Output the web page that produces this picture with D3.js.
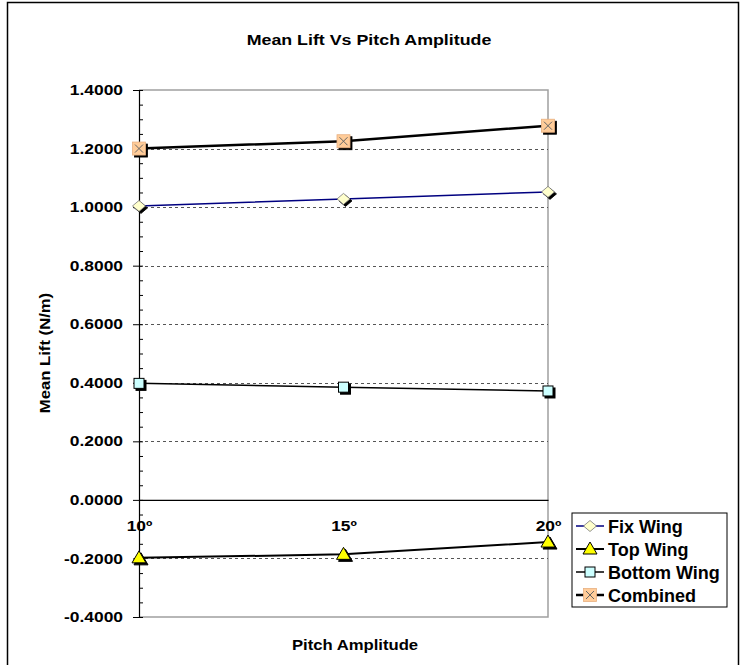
<!DOCTYPE html>
<html>
<head>
<meta charset="utf-8">
<script src="https://cdn.jsdelivr.net/npm/d3@7"></script>
<style>
  body { margin: 0; background: #fff; }
  text { font-family: "Liberation Sans", Arial, sans-serif; font-weight: bold; }
</style>
</head>
<body>
<svg id="chart" width="740" height="665"></svg>
<script>
// data
var amplitudes = ["10º", "15º", "20º"]
var fixWing = [1.004, 1.028, 1.052]
var topWing = [-0.198, -0.186, -0.144]
var bottomWing = [0.398, 0.385, 0.372]
var combined = [1.200, 1.225, 1.278]
var yTicks = [-0.4, -0.2, 0, 0.2, 0.4, 0.6, 0.8, 1.0, 1.2, 1.4]

var series = [
  { name: "Fix Wing", values: fixWing, color: "#000080", width: 1.5, marker: "diamond", fill: "#FFFFCC" },
  { name: "Top Wing", values: topWing, color: "#000", width: 2, marker: "triangle", fill: "#FFFF00" },
  { name: "Bottom Wing", values: bottomWing, color: "#000", width: 1.5, marker: "square", fill: "#CCFFFF" },
  { name: "Combined", values: combined, color: "#000", width: 2.5, marker: "cross", fill: "#FFCC99" }
]

const svg = d3.select('#chart')

// outer chart border
svg.append('rect')
  .attr('x', 7.5).attr('y', 2.5)
  .attr('width', 731).attr('height', 690)
  .attr('fill', 'none').attr('stroke', '#000').attr('stroke-width', 1.5)

var x = d3.scalePoint().domain(amplitudes).range([139, 548])
var y = d3.scaleLinear().domain([-0.4, 1.4]).range([617, 90])

// plot border (top, right, bottom)
const plot = svg.append('g')
plot.append('path')
  .attr('d', 'M' + x.range()[0] + ',' + y(1.4) + 'H' + x.range()[1] + 'V' + y(-0.4) + 'H' + x.range()[0])
  .attr('fill', 'none').attr('stroke', '#a0a0a0').attr('stroke-width', 1.5)

// dashed gridlines
plot.selectAll('.grid')
  .data(yTicks.filter((d) => d !== 0 && d !== -0.4 && d !== 1.4))
  .enter()
  .append('line')
  .attr('x1', x.range()[0]).attr('x2', x.range()[1])
  .attr('y1', (d) => Math.round(y(d)) + 0.5).attr('y2', (d) => Math.round(y(d)) + 0.5)
  .attr('stroke', '#555').attr('stroke-dasharray', '3,3')

// y axis: major ticks outward, minor ticks inward
var fmt = (d) => d3.format('.4f')(d).replace('\u2212', '-')
const yAxis = svg.append('g').attr('transform', 'translate(' + x.range()[0] + ',0)')
  .call(d3.axisLeft(y).tickValues(yTicks).tickFormat(fmt).tickSize(6))
yAxis.select('.domain').attr('stroke', '#000').attr('stroke-width', 1.2)
yAxis.selectAll('text')
  .attr('font-size', 14.5).attr('fill', '#000')
  .attr('x', 0)
  .attr('transform', 'translate(-16,0) scale(1.2,1)')
svg.append('g').attr('transform', 'translate(' + x.range()[0] + ',0)')
  .call(d3.axisRight(y).tickValues(d3.range(-0.4, 1.401, 0.05)).tickFormat('').tickSize(4))
  .select('.domain').remove()

// x axis at zero
const xAxis = svg.append('g').attr('transform', 'translate(0,' + y(0) + ')')
  .call(d3.axisBottom(x).tickSize(0))
xAxis.select('.domain').attr('stroke', '#000').attr('stroke-width', 1.2)
xAxis.selectAll('text')
  .attr('font-size', 14.5).attr('fill', '#000')
  .attr('y', 0).attr('dy', 0)
  .attr('transform', 'translate(0,31) scale(1.2,1)')

// lines
var line = d3.line().x((d, i) => x(amplitudes[i])).y((d) => y(d))
svg.append('g').selectAll('path')
  .data(series)
  .enter()
  .append('path')
  .attr('d', (d) => line(d.values))
  .attr('fill', 'none')
  .attr('stroke', (d) => d.color)
  .attr('stroke-width', (d) => d.width)

function drawMarker(g, type, fill, shadow) {
  var off = shadow ? 2 : 0
  var col = shadow ? '#000' : fill
  if (type === 'diamond') {
    g.append('path').attr('d', 'M0,-5.5L6.5,0L0,5.5L-6.5,0Z')
      .attr('transform', 'translate(' + off + ',' + off + ')')
      .attr('fill', col).attr('stroke', shadow ? '#000' : '#777').attr('stroke-width', 0.8)
  } else if (type === 'triangle') {
    g.append('path').attr('d', 'M0,-7L7,5L-7,5Z')
      .attr('transform', 'translate(' + off + ',' + off + ')')
      .attr('fill', col).attr('stroke', '#000').attr('stroke-width', 1)
  } else if (type === 'square') {
    g.append('rect').attr('x', -5 + off).attr('y', -5 + off).attr('width', 10).attr('height', 10)
      .attr('fill', col).attr('stroke', '#000').attr('stroke-width', 1)
  } else {
    g.append('rect').attr('x', -6.5 + off).attr('y', -6.5 + off).attr('width', 13).attr('height', 13)
      .attr('fill', col).attr('stroke', shadow ? '#000' : '#E8B080').attr('stroke-width', 0.8)
    if (!shadow) {
      g.append('path').attr('d', 'M-4,-4L4,4M4,-4L-4,4')
        .attr('stroke', '#666').attr('stroke-width', 1)
    }
  }
}

// markers
series.forEach(function(s) {
  s.values.forEach(function(v, i) {
    var g = svg.append('g').attr('transform', 'translate(' + x(amplitudes[i]) + ',' + y(v) + ')')
    drawMarker(g, s.marker, s.fill, true)
    drawMarker(g, s.marker, s.fill, false)
  })
})

// titles
svg.append('text').attr('transform', 'translate(369,45) scale(1.15,1)').attr('text-anchor', 'middle')
  .attr('font-size', 15.5).text('Mean Lift Vs Pitch Amplitude')
svg.append('text').attr('transform', 'translate(355,650) scale(1.15,1)').attr('text-anchor', 'middle')
  .attr('font-size', 14.5).text('Pitch Amplitude')
svg.append('text').attr('transform', 'translate(50,353) rotate(-90) scale(1.15,1)').attr('text-anchor', 'middle')
  .attr('font-size', 14.5).text('Mean Lift (N/m)')

// legend
const legend = svg.append('g').attr('transform', 'translate(572,513)')
legend.append('rect').attr('width', 155).attr('height', 94)
  .attr('fill', '#fff').attr('stroke', '#000').attr('stroke-width', 1)
const item = legend.selectAll('.item')
  .data(series)
  .enter()
  .append('g')
  .attr('transform', (d, i) => 'translate(0,' + (13 + i * 23) + ')')
item.append('line').attr('x1', 4).attr('x2', 32)
  .attr('stroke', (d) => d.color).attr('stroke-width', (d) => d.width)
item.each(function(d) {
  var g = d3.select(this).append('g').attr('transform', 'translate(18,0)')
  drawMarker(g, d.marker, d.fill, false)
})
item.append('text').attr('x', 36).attr('y', 6.5)
  .attr('font-size', 18).text((d) => d.name)
</script>
</body>
</html>
